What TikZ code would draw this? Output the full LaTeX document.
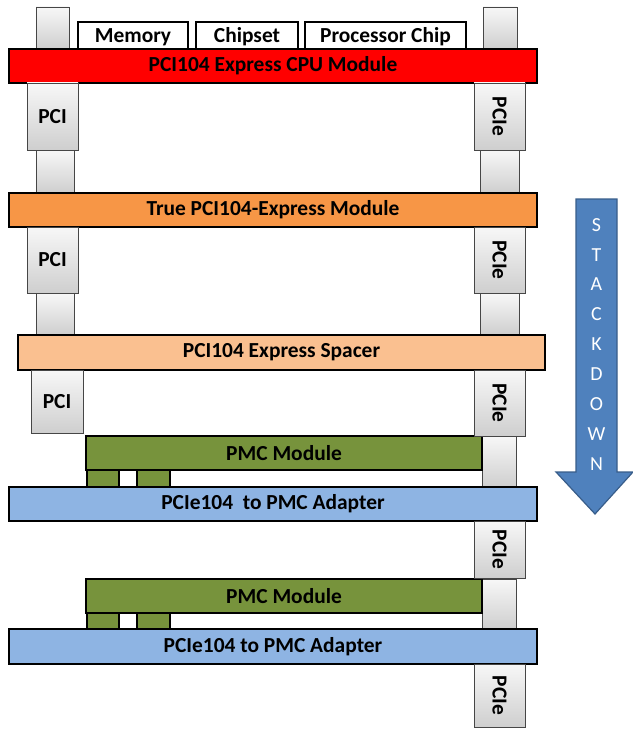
\documentclass[tikz,border=0pt]{standalone}
\usepackage{fontspec}
\setmainfont{Carlito}
\definecolor{cpured}{HTML}{FF0000}
\definecolor{trueor}{HTML}{F79646}
\definecolor{spacer}{HTML}{FAC090}
\definecolor{pmcgreen}{HTML}{77933C}
\definecolor{adblue}{HTML}{8EB4E3}
\definecolor{arrowblue}{HTML}{4F81BD}
\definecolor{arrowedge}{HTML}{385D8A}
\newcommand\lbl{\fontsize{21.5}{24}\selectfont\bfseries}
\tikzset{
  bar/.style={draw=black, line width=1.8bp, inner sep=0pt, outer sep=0pt, anchor=north west, font=\lbl},
  chipbox/.style={draw=black, line width=1.6bp, fill=white, inner sep=0pt, outer sep=0pt, anchor=north west, font=\lbl},
  conn/.style={draw=gray!55!black, line width=0.8bp, top color=gray!6, bottom color=gray!38, inner sep=0pt, outer sep=0pt, anchor=north west},
  stub/.style={conn},
  leg/.style={draw=black, line width=1.2bp, inner sep=0pt, outer sep=0pt, anchor=north west},
  vlbl/.style={rotate=-90, font=\lbl, inner sep=0pt},
  hlbl/.style={font=\lbl, inner sep=0pt}
}
\begin{document}
\begin{tikzpicture}[x=1bp, y=-1bp]
\useasboundingbox (0,0) rectangle (633,729);
% stubs (behind boards)
\node[stub, minimum width=33bp, minimum height=42bp] (s1l) at (36,7) {};
\node[stub, minimum width=34bp, minimum height=42bp] (s1r) at (483,7) {};
\node[stub, minimum width=38bp, minimum height=43bp] (s2l) at (36,150) {};
\node[stub, minimum width=39bp, minimum height=43bp] (s2r) at (480,150) {};
\node[stub, minimum width=38bp, minimum height=42bp] (s3l) at (36,293) {};
\node[stub, minimum width=39bp, minimum height=42bp] (s3r) at (480,293) {};
\node[stub, minimum width=34bp, minimum height=51bp] (s4r) at (482,436) {};
\node[stub, minimum width=34bp, minimum height=50bp] (s5r) at (482,579) {};
% chips on CPU module
\node[chipbox, minimum width=110bp, minimum height=28bp] (mem) at (78,22) {};
\node[hlbl] (memt) at (133,37) {Memory};
\node[chipbox, minimum width=102bp, minimum height=28bp] (chs) at (196,22) {};
\node[hlbl] (chst) at (247,37) {Chipset};
\node[chipbox, minimum width=161bp, minimum height=28bp] (proc) at (305,22) {};
\node[hlbl] (proct) at (385.5,37) {Processor Chip};
% PMC legs
\node[leg, fill=pmcgreen, minimum width=32bp, minimum height=17bp] (l1a) at (87,470) {};
\node[leg, fill=white, minimum width=18bp, minimum height=17bp] (l1b) at (119,470) {};
\node[leg, fill=pmcgreen, minimum width=33bp, minimum height=17bp] (l1c) at (137,470) {};
\node[leg, fill=pmcgreen, minimum width=32bp, minimum height=16bp] (l2a) at (87,613) {};
\node[leg, fill=white, minimum width=18bp, minimum height=16bp] (l2b) at (119,613) {};
\node[leg, fill=pmcgreen, minimum width=33bp, minimum height=16bp] (l2c) at (137,613) {};
% boards
\node[bar, fill=cpured, minimum width=528bp, minimum height=34bp] (cpu) at (9,49) {};
\node[hlbl] (cput) at (cpu.center) {PCI104 Express CPU Module};
\node[bar, fill=trueor, minimum width=528bp, minimum height=34bp] (tru) at (9,193) {};
\node[hlbl] (trut) at (tru.center) {True PCI104-Express Module};
\node[bar, fill=spacer, minimum width=527bp, minimum height=35bp] (spc) at (18,335) {};
\node[hlbl] (spct) at (spc.center) {PCI104 Express Spacer};
\node[bar, fill=pmcgreen, minimum width=396bp, minimum height=34bp] (pmc1) at (86,436) {};
\node[hlbl] (pmc1t) at (pmc1.center) {PMC Module};
\node[bar, fill=adblue, minimum width=528bp, minimum height=34bp] (ad1) at (9,487) {};
\node[hlbl] (ad1t) at (ad1.center) {PCIe104\ \ to PMC Adapter};
\node[bar, fill=pmcgreen, minimum width=396bp, minimum height=34bp] (pmc2) at (86,579) {};
\node[hlbl] (pmc2t) at (pmc2.center) {PMC Module};
\node[bar, fill=adblue, minimum width=528bp, minimum height=35bp] (ad2) at (9,629) {};
\node[hlbl] (ad2t) at (ad2.center) {PCIe104 to PMC Adapter};
% connectors
\node[conn, minimum width=51bp, minimum height=67bp] (pci1) at (27,83) {};
\node[hlbl] (pci1t) at (pci1.center) {PCI};
\node[conn, minimum width=51bp, minimum height=67bp] (pcie1) at (474,83) {};
\node[vlbl] (pcie1t) at (pcie1.center) {PCIe};
\node[conn, minimum width=51bp, minimum height=66bp] (pci2) at (27,227) {};
\node[hlbl] (pci2t) at (pci2.center) {PCI};
\node[conn, minimum width=51bp, minimum height=66bp] (pcie2) at (474,227) {};
\node[vlbl] (pcie2t) at (pcie2.center) {PCIe};
\node[conn, minimum width=52bp, minimum height=63bp] (pci3) at (31,370) {};
\node[hlbl] (pci3t) at (pci3.center) {PCI};
\node[conn, minimum width=51bp, minimum height=66bp] (pcie3) at (474,370) {};
\node[vlbl] (pcie3t) at (pcie3.center) {PCIe};
\node[conn, minimum width=51bp, minimum height=57bp] (pcie4) at (474,521) {};
\node[vlbl] (pcie4t) at (pcie4.center) {PCIe};
\node[conn, minimum width=51bp, minimum height=63bp] (pcie5) at (474,664) {};
\node[vlbl] (pcie5t) at (pcie5.center) {PCIe};
% stack down arrow
\draw[fill=arrowblue, draw=arrowedge, line width=1.2bp]
  (576,199) -- (617,199) -- (617,472) -- (633,472) -- (595,514) -- (556,472) -- (576,472) -- cycle;
\node[font=\fontsize{20}{30}\selectfont, text=white, align=center, inner sep=0pt, anchor=north] (stk) at (596.5,218)
  {S\\T\\A\\C\\K\\D\\O\\W\\N};
\end{tikzpicture}
\end{document}
